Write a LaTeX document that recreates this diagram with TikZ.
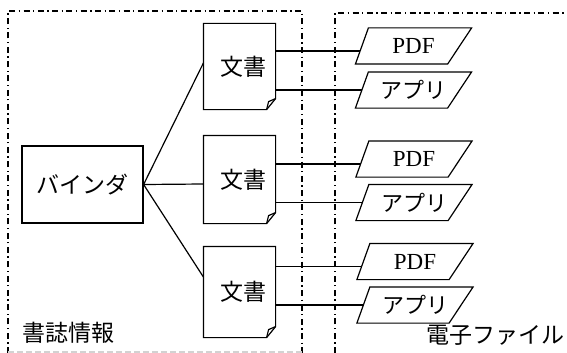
\documentclass[tikz,border=0pt]{standalone}
\usepackage{fontspec}
\setmainfont{Liberation Serif}
\newfontfamily\jp{Noto Sans CJK JP}
\usetikzlibrary{calc}
\newcommand\docshape[1]{%
  \draw (#1.north west) -- (#1.north east) -- ([yshift=11pt]#1.south east) -- ([xshift=-9pt]#1.south east) -- (#1.south west) -- cycle;
  \draw ([yshift=11pt]#1.south east) -- ([xshift=-7pt,yshift=8pt]#1.south east) -- ([xshift=-9pt]#1.south east);}
\newcommand\parashape[1]{%
  \draw ([xshift=13pt]#1.north west) -- (#1.north east) -- ([xshift=-24pt]#1.south east) -- (#1.south west) -- cycle;}
\begin{document}
\begin{tikzpicture}[x=1pt,y=-1pt,line width=1.2pt,
  frame/.style={line width=1.3pt,dash pattern=on 6pt off 3.5pt on 1.3pt off 3.5pt},
  docbox/.style={minimum width=71pt,inner sep=0pt,font=\jp\fontsize{23}{23}\selectfont},
  binder/.style={draw,minimum width=121pt,minimum height=77pt,inner sep=0pt,font=\jp\fontsize{23}{23}\selectfont},
  para/.style={minimum width=115pt,minimum height=35pt,inner sep=0pt,font=\fontsize{23}{23}\selectfont},
  parajp/.style={para,font=\jp\fontsize{22}{22}\selectfont},
  caption/.style={inner sep=0pt,font=\jp\fontsize{23}{23}\selectfont}]
\useasboundingbox (0,0) rectangle (567,353);
% frames
\draw[frame] (8,353) -- (8,11) -- (302,11) -- (302,353);
\draw[gray!35,line width=1.3pt,dash pattern=on 6pt off 3pt] (8,352) -- (302,352);
\draw[frame] (335,353) -- (335,13) -- (567,13);
% binder
\node[binder] (b) at (82.5,184.5) {バインダ};
% documents
\node[docbox,minimum height=85pt] (d1) at (239.5,66.5) {\raisebox{-3pt}{\hspace*{8pt}文書}};
\node[docbox,minimum height=87pt] (d2) at (239.5,179.5) {\raisebox{-3pt}{\hspace*{8pt}文書}};
\node[docbox,minimum height=90pt] (d3) at (239.5,292) {\raisebox{-4pt}{\hspace*{8pt}文書}};
\docshape{d1}\docshape{d2}\docshape{d3}
% files
\node[para] (p1) at (413.5,46) {PDF};
\node[parajp] (a1) at (413.5,90) {アプリ};
\node[para] (p2) at (414,159) {PDF};
\node[parajp] (a2) at (414,202.5) {アプリ};
\node[para] (p3) at (415,261.5) {PDF};
\node[parajp] (a3) at (415,305) {アプリ};
\parashape{p1}\parashape{a1}\parashape{p2}\parashape{a2}\parashape{p3}\parashape{a3}
% connectors binder -> documents
\draw (b.east) -- ([yshift=3.5pt]d1.west);
\draw (b.east) -- ([yshift=-4.5pt]d2.west);
\draw (b.east) -- ([yshift=15pt]d3.west);
% connectors documents -> files
\foreach \d/\p/\a in {d1/p1/a1,d2/p2/a2,d3/p3/a3}{
  \coordinate (\p in) at ([xshift=4.6pt,yshift=-5pt]\p.west);
  \coordinate (\a in) at ([xshift=6.5pt]\a.west);
  \draw (\d.east |- \p in) -- (\p in);
  \draw (\d.east |- \a in) -- (\a in);
}
% captions
\node[caption,anchor=west] (c1) at (22,333) {書誌情報};
\node[caption,anchor=east] (c2) at (565,335) {電子ファイル};
\end{tikzpicture}
\end{document}
